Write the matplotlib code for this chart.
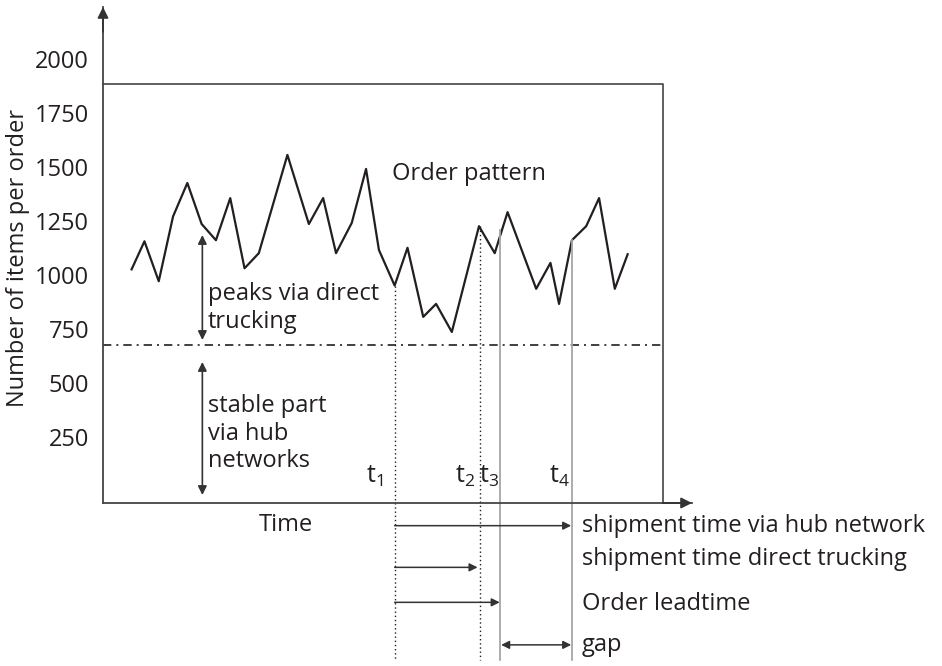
import matplotlib as mpl
mpl.use('Agg')
import matplotlib.pyplot as plt

plt.rcParams['font.family'] = ['Open Sans', 'DejaVu Sans']
plt.rcParams['mathtext.fontset'] = 'custom'
plt.rcParams['mathtext.rm'] = 'Open Sans'
plt.rcParams['mathtext.it'] = 'Open Sans'

# order pattern (time in arbitrary periods, items per order)
time = [2.0, 2.9, 3.9, 4.9, 5.9, 6.9, 7.9, 8.9, 9.9, 10.9, 12.9, 14.4, 15.4,
        16.3, 17.4, 18.4, 19.3, 20.4, 21.3, 22.4, 23.3, 24.4, 26.3, 27.4,
        28.3, 30.3, 31.3, 31.9, 32.8, 33.8, 34.7, 35.8, 36.7]
items = [1025, 1155, 970, 1270, 1425, 1235, 1160, 1355, 1030, 1100, 1555, 1235,
         1355, 1100, 1240, 1490, 1115, 950, 1125, 805, 865, 735, 1225, 1100,
         1290, 935, 1055, 865, 1160, 1225, 1355, 935, 1095]

yticks = [250, 500, 750, 1000, 1250, 1500, 1750, 2000]
stable_level = 675
box_top = 1883
box_right = 39.2

# marker times t1..t4 and where their lines start
t_names = ['1', '2', '3', '4']
t_pos = [20.4, 26.4, 27.8, 32.8]
t_start = [950, 1225, 1207, 1160]

ink = '#231f20'
grey = '#a6a6a6'
fs = 17

fig = plt.figure(figsize=(9.42, 6.66), dpi=100)
W, H = 942, 666
ax = fig.add_axes([103 / W, 1 - 503 / H, (692 - 103) / W, (503 - 7) / H])
ax.set_xlim(0, 41.2)
ax.set_ylim(-57, 2240)
for s in ['top', 'right']:
    ax.spines[s].set_visible(False)
for s in ['left', 'bottom']:
    ax.spines[s].set_color('#444444')
    ax.spines[s].set_linewidth(1.3)
ax.set_xticks([])
ax.set_yticks(yticks)
ax.set_yticklabels([str(v) for v in yticks])
ax.tick_params(axis='y', length=0, pad=10, labelsize=fs, labelcolor=ink)

# axis arrow heads
arr = dict(arrowstyle='-|>', color='#333333', lw=1.3, mutation_scale=16,
           shrinkA=0, shrinkB=0)
ax.annotate('', xy=(0, 1), xytext=(0, 0.95), xycoords='axes fraction', arrowprops=arr)
ax.annotate('', xy=(1, 0), xytext=(0.95, 0), xycoords='axes fraction', arrowprops=arr)

# box
ax.plot([0, box_right, box_right], [box_top, box_top, -57], color='#444444', lw=1.2,
        clip_on=False)
ax.plot([0, box_right], [stable_level, stable_level], color=ink, lw=1.2,
        linestyle=(0, (5, 3, 1.2, 3)))

ax.plot(time, items, color=ink, lw=1.6)
ax.text(20.2, 1438, 'Order pattern', fontsize=fs, color=ink)

# time markers
bottom = -784
for i in range(4):
    if i < 2:
        ax.plot([t_pos[i], t_pos[i]], [t_start[i], bottom], color=ink, lw=1.0,
                linestyle=(0, (1, 2)), clip_on=False)
    else:
        ax.plot([t_pos[i], t_pos[i]], [t_start[i], bottom], color=grey, lw=1.3,
                clip_on=False)
t_lab_x = [19.0, 25.3, 27.0, 31.9]
for i in range(4):
    ax.text(t_lab_x[i], 36, r'$\mathregular{t_%s}$' % t_names[i], fontsize=fs + 1,
            color=ink, ha='center', va='baseline')

# left double arrows
dbl = dict(arrowstyle='<|-|>', color='#333333', lw=1.2, mutation_scale=13,
           shrinkA=0, shrinkB=0)
ax.annotate('', xy=(6.95, 1184), xytext=(6.95, 698), arrowprops=dbl)
ax.annotate('', xy=(6.95, 596), xytext=(6.95, -20), arrowprops=dbl,
            annotation_clip=False)
ax.text(7.35, 883, 'peaks via direct', fontsize=fs, color=ink)
ax.text(7.35, 753, 'trucking', fontsize=fs, color=ink)
ax.text(7.35, 364, 'stable part', fontsize=fs, color=ink)
ax.text(7.35, 234, 'via hub', fontsize=fs, color=ink)
ax.text(7.35, 109, 'networks', fontsize=fs, color=ink)

ax.text(12.8, -186, 'Time', fontsize=fs, color=ink, ha='center')

# lead time arrows below the axis
one = dict(arrowstyle='-|>', color='#333333', lw=1.1, mutation_scale=12,
           shrinkA=0, shrinkB=0)
ax.annotate('', xy=(32.75, -162), xytext=(t_pos[0], -162), arrowprops=one,
            annotation_clip=False)
ax.annotate('', xy=(26.2, -355), xytext=(t_pos[0], -355), arrowprops=one,
            annotation_clip=False)
ax.annotate('', xy=(27.75, -517), xytext=(t_pos[0], -517), arrowprops=one,
            annotation_clip=False)
ax.annotate('', xy=(32.75, -714), xytext=(27.85, -714), arrowprops=dict(one, arrowstyle='<|-|>'),
            annotation_clip=False)
ax.text(33.5, -162, 'shipment time via hub network', fontsize=fs, color=ink,
        va='center')
ax.text(33.5, -315, 'shipment time direct trucking', fontsize=fs, color=ink,
        va='center')
ax.text(33.5, -523, 'Order leadtime', fontsize=fs, color=ink, va='center')
ax.text(33.5, -714, 'gap', fontsize=fs, color=ink, va='center')

fig.text(18 / W, 1 - 258 / H, 'Number of items per order', rotation=90,
         fontsize=fs, color=ink, ha='center', va='center')

plt.savefig('out.png', dpi=100)
